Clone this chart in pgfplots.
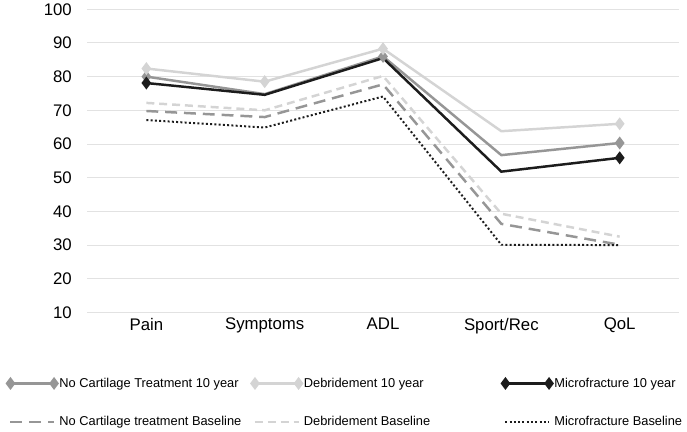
\documentclass[border=0pt]{standalone}
\usepackage{pgfplots}
\pgfplotsset{compat=1.18}
\usepackage{fontspec}
\setmainfont{Liberation Sans}
\definecolor{cgray}{RGB}{150,150,150}
\definecolor{clight}{RGB}{212,212,212}
\definecolor{cblack}{RGB}{28,28,28}
\definecolor{cgrid}{RGB}{226,226,226}
\begin{document}
\begin{tikzpicture}
\begin{axis}[
  scale only axis, width=597bp, height=306bp,
  xmin=-0.5, xmax=4.5, ymin=10, ymax=100,
  ytick={10,20,...,100},
  xtick={0,1,2,3,4},
  xticklabels={Pain,Symptoms,ADL,Sport/Rec,QoL},
  axis line style={draw=none},
  major tick length=0pt,
  ymajorgrids, grid style={cgrid, line width=1bp},
  tick label style={font=\fontsize{17}{18}\selectfont},
  /pgf/number format/assume math mode=true,
  yticklabel style={xshift=-12bp},
  xticklabel style={yshift=-2bp},
  legend columns=3,
  legend style={at={(0,0)}, anchor=north west, xshift=-84bp, yshift=-62bp,
    draw=none, fill=none, font=\fontsize{13}{15}\selectfont,
    /tikz/every even column/.append style={column sep=2bp},
    row sep=24bp},
  legend cell align=left,
  legend image code/.code={\draw[#1, mark indices={1,2}] plot coordinates {(0bp,0bp) (44bp,0bp)};},
  every axis plot/.append style={line width=2.5bp},
]
\addplot[cgray, mark=diamond*, mark size=4.5bp, mark indices={1,3,5}, mark options={solid}]
  coordinates {(0,80.0) (1,74.8) (2,86.0) (3,56.7) (4,60.3)};
\addlegendentry{\makebox[190bp][l]{No Cartilage Treatment 10 year}}
\addplot[clight, mark=diamond*, mark size=4.5bp, mark indices={1,2,3,5}, mark options={solid}]
  coordinates {(0,82.4) (1,78.5) (2,88.3) (3,63.8) (4,66.0)};
\addlegendentry{\makebox[196bp][l]{Debridement 10 year}}
\addplot[cblack, mark=diamond*, mark size=4.5bp, mark indices={1,5}, mark options={solid}]
  coordinates {(0,78.1) (1,74.6) (2,85.5) (3,51.8) (4,55.9)};
\addlegendentry{Microfracture 10 year}
\addplot[cgray, dash pattern=on 12bp off 7bp]
  coordinates {(0,69.8) (1,68.0) (2,77.7) (3,36.3) (4,30.1)};
\addlegendentry{\makebox[190bp][l]{No Cartilage treatment Baseline}}
\addplot[clight, dash pattern=on 8bp off 5bp]
  coordinates {(0,72.2) (1,70.0) (2,80.2) (3,39.3) (4,32.5)};
\addlegendentry{\makebox[196bp][l]{Debridement Baseline}}
\addplot[cblack, line width=2bp, dash pattern=on 2bp off 2.3bp]
  coordinates {(0,67.1) (1,64.9) (2,74.1) (3,30.1) (4,30.0)};
\addlegendentry{Microfracture Baseline}
\end{axis}
\path (current axis.south west) ++(-88bp,-119bp);
\path (current axis.north east) ++(2bp,9bp);
\end{tikzpicture}
\end{document}
